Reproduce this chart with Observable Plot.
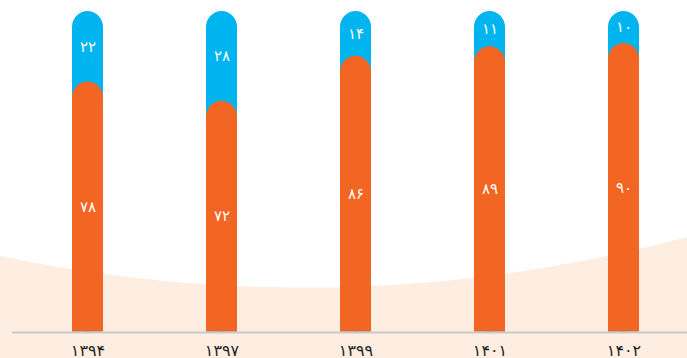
<!DOCTYPE html>
<html><head><meta charset="utf-8">
<script src="https://cdn.jsdelivr.net/npm/d3@7"></script>
<script src="https://cdn.jsdelivr.net/npm/@observablehq/plot@0.6"></script>
<style>
html,body{margin:0;padding:0;background:#fff;}
#wrap{position:relative;width:687px;height:358px;overflow:hidden;}
#bg{position:absolute;left:0;top:0;}
#chart{position:absolute;left:0;top:0;}
</style></head><body>
<div id="wrap">
<svg id="bg" width="687" height="358"><path d="M0,256 C230,304 460,297 687,237 L687,358 L0,358Z" fill="#fdeee1"/></svg>
<div id="chart"></div>
</div>
<script>
const years = ["۱۳۹۴","۱۳۹۷","۱۳۹۹","۱۴۰۱","۱۴۰۲"];
const orangeValues = [78, 72, 86, 89, 90];
const blueValues = [22, 28, 14, 11, 10];

const toFa = n => String(n).replace(/\d/g, d => "۰۱۲۳۴۵۶۷۸۹"[d]);
const data = years.map((year, i) => ({year, orange: orangeValues[i], blue: blueValues[i], total: orangeValues[i] + blueValues[i]}));

const ORANGE = "#f26522", BLUE = "#00b4f0";
const plot = Plot.plot({
  width: 687, height: 358,
  marginTop: 11, marginBottom: 26.5, marginLeft: 12, marginRight: 0,
  style: {background: "transparent", fontFamily: "'DejaVu Sans', sans-serif", color: "#231f20"},
  x: {domain: years, paddingInner: 0.765, paddingOuter: 0.3967, align: 0.554, label: null},
  y: {domain: [0, 100], axis: null},
  marks: [
    Plot.barY(data, {x: "year", y1: 0, y2: "total", fill: BLUE, rx: 16}),
    Plot.barY(data, {x: "year", y1: 0, y2: d => d.total / 2, fill: BLUE}),
    Plot.barY(data, {x: "year", y1: 0, y2: "orange", fill: ORANGE, rx: 16}),
    Plot.barY(data, {x: "year", y1: 0, y2: d => d.orange / 2, fill: ORANGE}),
    Plot.ruleY([0], {stroke: "#c9c9c9", strokeWidth: 2, dy: 0.5}),
    Plot.text(data, {x: "year", y: d => d.orange / 2, text: d => toFa(d.orange), fill: "white", fontSize: 15}),
    Plot.text(data, {x: "year", y: d => d.orange + d.blue / 2, text: d => toFa(d.blue), fill: "white", fontSize: 15}),
    Plot.axisX({tickSize: 0, tickPadding: 13, fontSize: 16, label: null})
  ]
});
document.getElementById("chart").appendChild(plot);
</script>
</body></html>
